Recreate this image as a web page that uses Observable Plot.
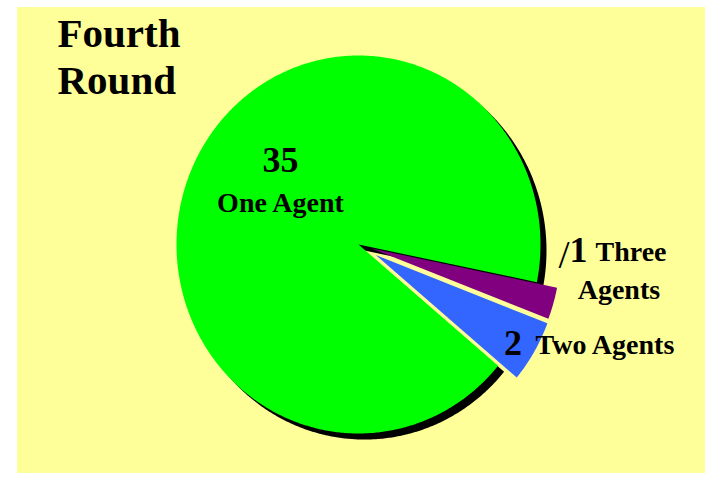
<!DOCTYPE html>
<html><head><meta charset="utf-8">
<script src="https://cdn.jsdelivr.net/npm/d3@7"></script>
<script src="https://cdn.jsdelivr.net/npm/@observablehq/plot@0.6"></script>
<style>
html,body{margin:0;padding:0;background:#fff;}
#chart{position:absolute;left:17px;top:7px;}
</style></head><body><div id="chart"></div>
<script>
// ---- data ----
const categories = ["One Agent", "Two Agents", "Three Agents"];
const values = [35, 2, 1];
const colors = ["#00ff00", "#3366ff", "#800080"];
const titleLines = ["Fourth", "Round"];
const valueLabels = ["35", "2", "1"];

// ---- layout (code constants) ----
const deg = Math.PI / 180;
const explode = [0, 0.11, 0.075];      // offset along mid-angle (unit radius)
const radiusScale = [1, 1.01, 1.04];
const shadow = {dx: 0.033, dy: -0.032};

const pie = d3.pie().sort(null)
  .startAngle(461.5 * deg)
  .endAngle(461.5 * deg - 2 * Math.PI);
const arcs = pie(values);

function slicePoints(a, i, sx = 0, sy = 0) {
  const mid = (a.startAngle + a.endAngle) / 2;
  const ox = Math.sin(mid) * explode[i] + sx;
  const oy = Math.cos(mid) * explode[i] + sy;
  const r = radiusScale[i];
  const pts = [{x: ox, y: oy}];
  const n = Math.max(4, Math.ceil(Math.abs(a.endAngle - a.startAngle) / (0.5 * deg)));
  for (let k = 0; k <= n; k++) {
    const t = a.startAngle + (a.endAngle - a.startAngle) * k / n;
    pts.push({x: ox + r * Math.sin(t), y: oy + r * Math.cos(t)});
  }
  pts.push({x: ox, y: oy});
  return pts;
}

const marks = [];
// shadow of the main slice
marks.push(Plot.line(slicePoints(arcs[0], 0, shadow.dx, shadow.dy),
  {x: "x", y: "y", fill: "black", stroke: "none"}));
arcs.forEach((a, i) => {
  marks.push(Plot.line(slicePoints(a, i), {x: "x", y: "y", fill: colors[i], stroke: "none"}));
});

const bold = {fill: "black", fontWeight: "bold", lineAnchor: "middle"};
function label(text, x, y, size, anchor = "middle", weight = "bold") {
  marks.push(Plot.text([text], {x: () => x, y: () => y, text: d => d, ...bold,
    fontSize: size, textAnchor: anchor, fontWeight: weight}));
}
// title
label(titleLines[0], -1.654, 1.117, 41, "start");
label(titleLines[1], -1.654, 0.868, 41, "start");
// One Agent
label(valueLabels[0], -0.4286, 0.447, 36);
label(categories[0], -0.4286, 0.217, 28);
// Three Agents
label("/", 1.129, -0.054, 40, "middle", "normal");
label(valueLabels[2], 1.209, -0.034, 36);
label(categories[2].split(" ")[0], 1.302, -0.042, 28, "start");
label(categories[2].split(" ")[1], 1.431, -0.243, 28);
// Two Agents
label(valueLabels[1], 0.849, -0.526, 36);
label(categories[1], 0.973, -0.534, 28, "start");

const chart = Plot.plot({
  width: 688, height: 466,
  marginLeft: 159, marginRight: 165, marginTop: 48, marginBottom: 40,
  x: {domain: [-1, 1], axis: null},
  y: {domain: [-1, 1], axis: null},
  style: {background: "#ffff99", fontFamily: "'Liberation Serif', 'Times New Roman', serif", overflow: "visible"},
  marks
});
document.getElementById("chart").appendChild(chart);
</script></body></html>
